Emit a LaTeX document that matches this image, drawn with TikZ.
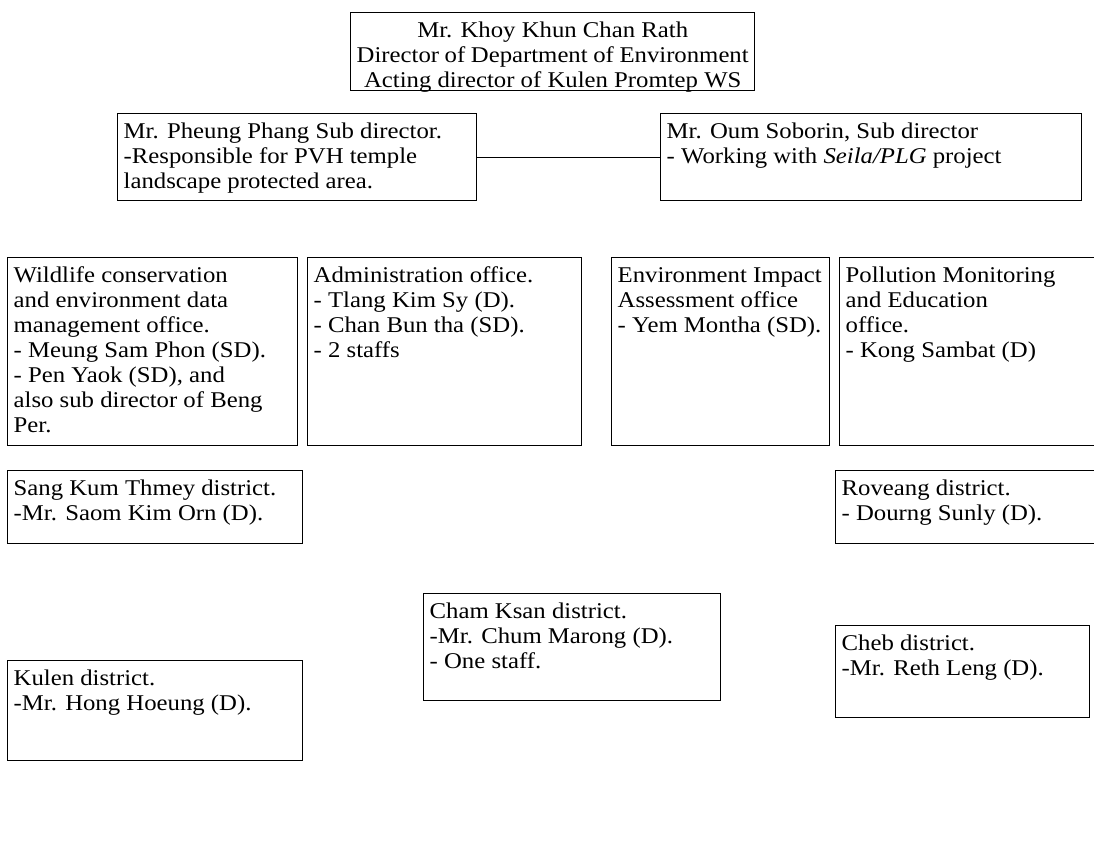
\documentclass[tikz,border=0pt]{standalone}
\usepackage{fontspec}
\setmainfont{Liberation Serif}[FakeStretch=1.1]
\tikzset{block/.style = {draw, fill=white, line width=1.4pt, rectangle, anchor=north west, inner xsep=6pt, inner ysep=7pt,
                         font=\fontsize{22.5}{25}\selectfont},
         link/.style = {line width=1.2pt}}
\newcommand{\btext}[3]{\parbox[c][#2][t]{#1}{\raggedright\strut #3}}
\newcommand{\ctext}[3]{\parbox[c][#2][t]{#1}{\centering\strut #3}}

\begin{document}
\begin{tikzpicture}[x=1pt,y=-1pt]
        \fill[white](0,0)rectangle(1094,865);
        \useasboundingbox(0,0)rectangle(1094,865);
        \clip(0,0)rectangle(1094,865);

        \node[block](dir)at(350,12){\ctext{392pt}{64pt}{Mr. Khoy Khun Chan Rath\\Director of Department of Environment\\Acting director of Kulen Promtep WS}};

        \node[block](phang)at(117,113){\btext{347pt}{73pt}{Mr. Pheung Phang Sub director.\\-Responsible for PVH temple\\landscape protected area.}};
        \node[block](soborin)at(660,113){\btext{409pt}{73pt}{Mr. Oum Soborin, Sub director\\- Working with \textit{Seila/PLG} project}};
        \draw[link](phang.east)--(soborin.west);

        \node[block](wild)at(7,257){\btext{278pt}{174pt}{Wildlife conservation\\and environment data\\management office.\\- Meung Sam Phon (SD).\\- Pen Yaok (SD), and\\also sub director of Beng\\Per.}};
        \node[block](admin)at(307,257){\btext{262pt}{174pt}{Administration office.\\- Tlang Kim Sy (D).\\- Chan Bun tha (SD).\\- 2 staffs}};
        \node[block](eia)at(611,257){\btext{206pt}{174pt}{Environment Impact\\Assessment office\\- Yem Montha (SD).}};
        \node[block](poll)at(839,257){\btext{280pt}{174pt}{Pollution Monitoring\\and Education\\office.\\- Kong Sambat (D)}};

        \node[block](sangkum)at(7,470){\btext{283pt}{59pt}{Sang Kum Thmey district.\\-Mr. Saom Kim Orn (D).}};
        \node[block](roveang)at(835,470){\btext{270pt}{59pt}{Roveang district.\\- Dourng Sunly (D).}};

        \node[block](chamksan)at(423,593){\btext{285pt}{93pt}{Cham Ksan district.\\-Mr. Chum Marong (D).\\- One staff.}};
        \node[block](kulen)at(7,660){\btext{283pt}{86pt}{Kulen district.\\-Mr. Hong Hoeung (D).}};
        \node[block](cheb)at(835,625){\btext{242pt}{78pt}{Cheb district.\\-Mr. Reth Leng (D).}};
    \end{tikzpicture}
\end{document}
